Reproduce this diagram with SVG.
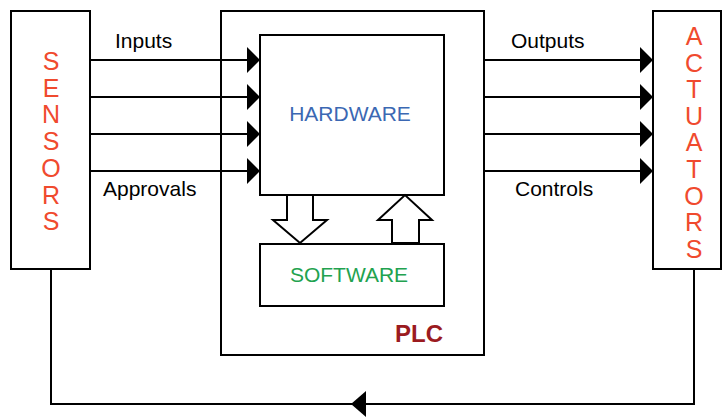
<svg xmlns="http://www.w3.org/2000/svg" width="723" height="417" viewBox="0 0 723 417">
<style>
.box{fill:#fff;stroke:#000;stroke-width:2}
.ln{fill:none;stroke:#000;stroke-width:2}
.lbl{font-family:"Liberation Sans",Arial,sans-serif;font-size:21px;fill:#000}
.vt{font-family:"Liberation Sans",Arial,sans-serif;font-size:25px;fill:#F04A2E;text-anchor:middle}
.blk{fill:#fff;stroke:#000;stroke-width:2;stroke-linejoin:miter}
</style>
<defs>
<marker id="ah" markerUnits="userSpaceOnUse" markerWidth="13" markerHeight="26" refX="13" refY="13" orient="auto">
<path d="M0,0 L13,13 L0,26 z" fill="#000"/>
</marker>
</defs>
<rect width="723" height="417" fill="#fff"/>
<g id="plc">
<rect class="box" x="221" y="11" width="263" height="344"/>
<text x="443" y="342" font-family="'Liberation Sans',Arial,sans-serif" font-size="24" font-weight="bold" fill="#9B1B1F" text-anchor="end">PLC</text>
</g>
<g id="sensors">
<rect class="box" x="11" y="11" width="79" height="258"/>
<text class="vt" x="51" y="70">S</text>
<text class="vt" x="51" y="96.7">E</text>
<text class="vt" x="51" y="123.4">N</text>
<text class="vt" x="51" y="150.1">S</text>
<text class="vt" x="51" y="176.8">O</text>
<text class="vt" x="51" y="203.5">R</text>
<text class="vt" x="51" y="230.2">S</text>
</g>
<g id="actuators">
<rect class="box" x="653" y="11" width="68" height="258"/>
<text class="vt" x="694" y="45">A</text>
<text class="vt" x="694" y="71.6">C</text>
<text class="vt" x="694" y="98.2">T</text>
<text class="vt" x="694" y="124.8">U</text>
<text class="vt" x="694" y="151.4">A</text>
<text class="vt" x="694" y="178">T</text>
<text class="vt" x="694" y="204.6">O</text>
<text class="vt" x="694" y="231.2">R</text>
<text class="vt" x="694" y="257.8">S</text>
</g>
<g id="hardware">
<rect class="box" x="260" y="35" width="184" height="160"/>
<text x="350" y="121" font-family="'Liberation Sans',Arial,sans-serif" font-size="21" fill="#3B68B3" text-anchor="middle">HARDWARE</text>
</g>
<g id="software">
<rect class="box" x="260" y="244" width="184" height="62"/>
<text x="349" y="282" font-family="'Liberation Sans',Arial,sans-serif" font-size="21" fill="#22A24F" text-anchor="middle">SOFTWARE</text>
</g>
<g id="connectors">
<line class="ln" x1="90" y1="60" x2="260" y2="60" marker-end="url(#ah)"/>
<line class="ln" x1="90" y1="97" x2="260" y2="97" marker-end="url(#ah)"/>
<line class="ln" x1="90" y1="134" x2="260" y2="134" marker-end="url(#ah)"/>
<line class="ln" x1="90" y1="171" x2="260" y2="171" marker-end="url(#ah)"/>
<line class="ln" x1="484" y1="60" x2="653" y2="60" marker-end="url(#ah)"/>
<line class="ln" x1="484" y1="97" x2="653" y2="97" marker-end="url(#ah)"/>
<line class="ln" x1="484" y1="134" x2="653" y2="134" marker-end="url(#ah)"/>
<line class="ln" x1="484" y1="171" x2="653" y2="171" marker-end="url(#ah)"/>
<polyline class="ln" points="694,269 694,404 51,404 51,269"/>
<polygon points="351,404 366,391 366,417" fill="#000"/>
<polygon class="blk" points="287,195 313,195 313,220 327,220 300,243 273,220 287,220"/>
<polygon class="blk" points="392,243 392,220 378,220 405,195 432,220 419,220 419,243"/>
<text class="lbl" x="115" y="48">Inputs</text>
<text class="lbl" x="103" y="196">Approvals</text>
<text class="lbl" x="511" y="48">Outputs</text>
<text class="lbl" x="515" y="196">Controls</text>
</g>
</svg>
